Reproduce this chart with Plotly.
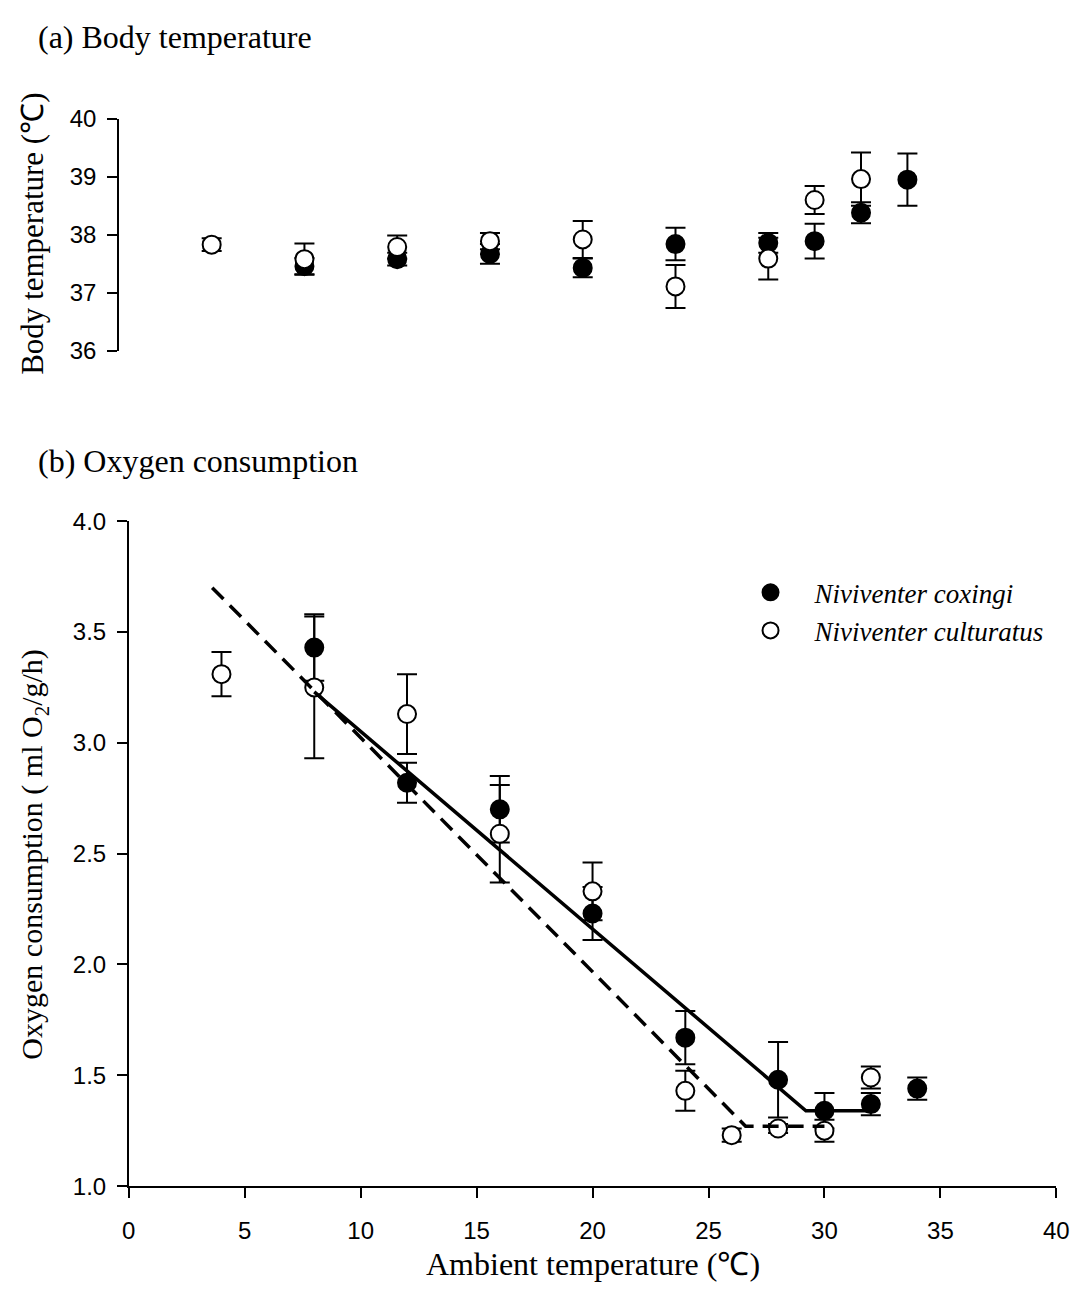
import plotly.graph_objects as go

W, H = 1089, 1299

# ---------------- data ----------------
# (a) Body temperature
bt_cox_x = [8, 12, 16, 20, 24, 28, 30, 32, 34]
bt_cox_y = [37.46, 37.58, 37.67, 37.43, 37.84, 37.86, 37.89, 38.38, 38.95]
bt_cox_e = [0.14, 0.11, 0.17, 0.16, 0.28, 0.17, 0.30, 0.18, 0.45]
bt_cul_x = [4, 8, 12, 16, 20, 24, 28, 30, 32]
bt_cul_y = [37.83, 37.58, 37.79, 37.89, 37.92, 37.11, 37.59, 38.60, 38.96]
bt_cul_e = [0.11, 0.27, 0.20, 0.14, 0.32, 0.37, 0.36, 0.24, 0.46]

# (b) Oxygen consumption
oc_cox_x = [8, 12, 16, 20, 24, 28, 30, 32, 34]
oc_cox_y = [3.43, 2.82, 2.70, 2.23, 1.67, 1.48, 1.34, 1.37, 1.44]
oc_cox_e = [0.15, 0.09, 0.15, 0.12, 0.12, 0.17, 0.08, 0.05, 0.05]
oc_cul_x = [4, 8, 12, 16, 20, 24, 26, 28, 30, 32]
oc_cul_y = [3.31, 3.25, 3.13, 2.59, 2.33, 1.43, 1.23, 1.26, 1.25, 1.49]
oc_cul_e = [0.10, 0.32, 0.18, 0.22, 0.13, 0.09, 0.03, 0.02, 0.05, 0.05]

# broken-stick regression lines
fit_cox_x = [8, 29.2, 32]
fit_cox_y = [3.23, 1.34, 1.34]
fit_cul_x = [3.6, 26.6, 30]
fit_cul_y = [3.70, 1.27, 1.27]

x_ticks = [0, 5, 10, 15, 20, 25, 30, 35, 40]
y_ticks_a = [36, 37, 38, 39, 40]
y_ticks_b = [1.0, 1.5, 2.0, 2.5, 3.0, 3.5, 4.0]

name_cox = "<i>Niviventer coxingi</i>"
name_cul = "<i>Niviventer culturatus</i>"

SERIF = "Liberation Serif, Times New Roman, serif"
SANS = "Liberation Sans, Arial, sans-serif"
MS = 18
TS = 32

def px(x):
    return x / W

def py(y):
    return 1 - y / H

def err(arr):
    return dict(type="data", array=arr, visible=True, color="black", thickness=2, width=10)

filled = dict(symbol="circle", size=MS, color="black", line=dict(color="black", width=2))
opened = dict(symbol="circle", size=MS, color="white", line=dict(color="black", width=2))

fig = go.Figure()

# top panel
fig.add_trace(go.Scatter(x=bt_cox_x, y=bt_cox_y, mode="markers", marker=filled,
                         error_y=err(bt_cox_e), xaxis="x2", yaxis="y2", showlegend=False))
fig.add_trace(go.Scatter(x=bt_cul_x, y=bt_cul_y, mode="markers", marker=opened,
                         error_y=err(bt_cul_e), xaxis="x2", yaxis="y2", showlegend=False))

# bottom panel
fig.add_trace(go.Scatter(x=oc_cox_x, y=oc_cox_y, mode="markers", marker=filled,
                         error_y=err(oc_cox_e), name=name_cox))
fig.add_trace(go.Scatter(x=oc_cul_x, y=oc_cul_y, mode="markers", marker=opened,
                         error_y=err(oc_cul_e), name=name_cul))
fig.add_trace(go.Scatter(x=fit_cox_x, y=fit_cox_y, mode="lines",
                         line=dict(color="black", width=3.5), showlegend=False))
fig.add_trace(go.Scatter(x=fit_cul_x, y=fit_cul_y, mode="lines",
                         line=dict(color="black", width=3.5, dash="16px,9px"), showlegend=False))

axis_common = dict(showgrid=False, zeroline=False, showline=True, linecolor="black", linewidth=1.5,
                   ticks="outside", ticklen=10, tickwidth=1.5, tickcolor="black",
                   tickfont=dict(family=SANS, size=24, color="black"))

fig.update_layout(
    width=W, height=H,
    margin=dict(l=0, r=0, t=0, b=0),
    paper_bgcolor="white", plot_bgcolor="white",
    xaxis=dict(domain=[px(124), px(1069)], range=[0, 40], tickvals=x_ticks,
               anchor="y", ticklabelstandoff=12, **axis_common),
    yaxis=dict(domain=[py(1197), py(518)], range=[1.0, 4.0], tickvals=y_ticks_b,
               ticktext=[f"{v:.1f}" for v in y_ticks_b], anchor="x",
               ticklabelstandoff=6, **axis_common),
    xaxis2=dict(domain=[px(114), px(1059)], range=[0, 40], visible=False, anchor="y2"),
    yaxis2=dict(domain=[py(344), py(107)], range=[36, 40], tickvals=y_ticks_a,
                anchor="x2", ticklabelstandoff=6, **axis_common),
    legend=dict(x=px(733), y=py(566), xanchor="left", yanchor="top",
                font=dict(family=SERIF, size=27, color="black"),
                bgcolor="rgba(0,0,0,0)", itemwidth=78, tracegroupgap=0),
    annotations=[
        dict(text="(a) Body temperature", x=px(30), y=py(23), xref="paper", yref="paper",
             xanchor="left", yanchor="middle", showarrow=False,
             font=dict(family=SERIF, size=TS, color="black")),
        dict(text="(b) Oxygen consumption", x=px(30), y=py(456), xref="paper", yref="paper",
             xanchor="left", yanchor="middle", showarrow=False,
             font=dict(family=SERIF, size=TS, color="black")),
        dict(text="Body temperature (℃)", x=px(26), y=py(225), xref="paper", yref="paper",
             xanchor="center", yanchor="middle", textangle=-90, showarrow=False,
             font=dict(family=SERIF, size=31, color="black")),
        dict(text="Oxygen consumption ( ml O<sub>2</sub>/g/h)", x=px(28), y=py(858),
             xref="paper", yref="paper", xanchor="center", yanchor="middle", textangle=-90,
             showarrow=False, font=dict(family=SERIF, size=30, color="black")),
        dict(text="Ambient temperature (℃)", x=px(597), y=py(1277), xref="paper", yref="paper",
             xanchor="center", yanchor="middle", showarrow=False,
             font=dict(family=SERIF, size=TS, color="black")),
    ],
)

fig.write_html("out.html", config={"displayModeBar": False},
               post_script="document.body.style.margin='0px';")
